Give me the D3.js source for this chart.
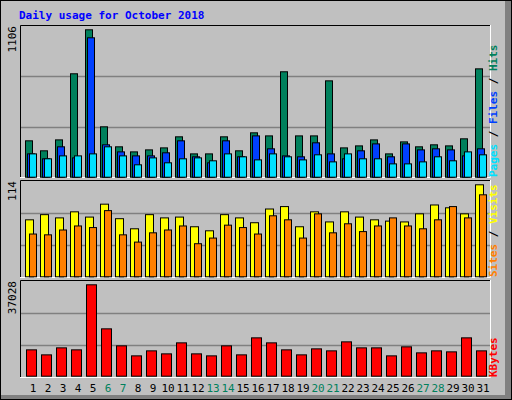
<!DOCTYPE html>
<html>
<head>
<meta charset="utf-8">
<script src="https://cdn.jsdelivr.net/npm/d3@7"></script>
<style>
  body { margin: 0; background: #fff; }
  svg text { font-family: "DejaVu Sans Mono", monospace; }
</style>
</head>
<body>
<svg id="chart" width="512" height="400"></svg>
<script>
const days = d3.range(1, 32);
const weekends = [6, 7, 13, 14, 20, 21, 27, 28];

const hits = [273,198,280,776,1106,378,228,190,205,220,303,175,175,303,198,333,310,791,310,310,723,220,235,280,175,265,228,243,235,288,813];
const files = [175,138,228,145,1046,243,190,160,160,183,273,153,108,273,153,310,213,160,153,258,175,138,198,250,153,250,205,213,205,160,213];
const pages = [175,138,160,160,175,228,160,93,145,108,138,145,123,175,153,130,175,153,130,168,115,175,138,138,100,100,115,153,123,190,168];
const visits = [70.6,77,73,80.5,74,90,72,59.5,77,73,74,62,57,77,73,67,84,87,62,80.5,68,80.5,74,70.6,69,68,78,89,85.5,78,114];
const sites = [53,52,58,63,61,82,52,43,54.5,58,63,41,48,64,61,53,75.6,70.6,48,78,54.5,65.7,56,63,73,63,59.5,70.6,87,73,101.6];
const kbytes = [10674,8647,11484,10674,37028,19186,12295,8241,10268,9052,13510,9052,8241,12295,8647,15537,13510,10674,8647,11078,10268,13915,11484,11484,8241,11889,9457,10268,9862,15537,10268];

const svg = d3.select('#chart');
const W = 512, H = 400;

// background and bevel
svg.append('rect').attr('width', W).attr('height', H).attr('fill', '#c0c0c0');
svg.append('path').attr('d', `M0.5,${H-0.5}V0.5H${W-0.5}`).attr('stroke', '#fff').attr('fill', 'none');
svg.append('rect').attr('x', W - 7).attr('y', 0).attr('width', 7).attr('height', H).attr('fill', '#808080');
svg.append('rect').attr('x', 0).attr('y', H - 5).attr('width', W).attr('height', 5).attr('fill', '#808080');
svg.append('rect').attr('x', 0.5).attr('y', 0.5).attr('width', W - 1).attr('height', H - 1)
  .attr('fill', 'none').attr('stroke', '#000');

svg.append('text').attr('x', 19).attr('y', 19).text('Daily usage for October 2018')
  .attr('font-size', 11).attr('font-weight', 'bold').attr('fill', '#0000ff');

const x = d3.scaleBand().domain(days).range([25, 490]);

const panels = [
  { top: 25, bottom: 178, base: 176.7, peak: 29.3, max: 1106,
    series: [[hits, '#00805c', 0, 7], [files, '#0040ff', 2, 7], [pages, '#00e0ff', 4, 7]],
    label: [['Pages', '#00e0ff'], ['Files', '#0040ff'], ['Hits', '#00805c']] },
  { top: 180, bottom: 278, base: 276.3, peak: 184.3, max: 114,
    series: [[visits, '#ffff00', 0, 8], [sites, '#ff8000', 4, 7]],
    label: [['Sites', '#ff8000'], ['Visits', '#ffff00']] },
  { top: 280, bottom: 378, base: 375.7, peak: 284.3, max: 37028,
    series: [[kbytes, '#ff0000', 1, 10]],
    label: [['KBytes', '#ff0000']] }
];

panels.forEach(p => {
  const g = svg.append('g');
  g.append('rect').attr('x', 20).attr('y', p.top).attr('width', 470).attr('height', p.bottom - p.top)
    .attr('fill', '#c0c0c0');
  const h = p.bottom - p.top;
  [1 / 3, 2 / 3].forEach(f => {
    g.append('line').attr('x1', 21).attr('x2', 490)
      .attr('y1', Math.round(p.top + h * f) + 0.5).attr('y2', Math.round(p.top + h * f) + 0.5)
      .attr('stroke', '#808080').attr('stroke-width', 1.3);
  });
  g.append('path').attr('d', `M20.5,${p.bottom}V${p.top + 0.5}H490`).attr('stroke', '#000').attr('fill', 'none');
  g.append('path').attr('d', `M20,${p.bottom - 0.5}H490.5V${p.top}`).attr('stroke', '#fff').attr('fill', 'none');

  const y = d3.scaleLinear().domain([0, p.max]).range([p.base, p.peak]);
  p.series.forEach(([vals, color, off, w]) => {
    g.selectAll(null).data(vals).enter().append('rect')
      .attr('x', (d, i) => x(days[i]) + off + 0.5)
      .attr('y', d => y(d) + 0.5)
      .attr('width', w)
      .attr('height', d => p.base - y(d))
      .attr('fill', color).attr('stroke', '#000').attr('stroke-width', 1);
  });

  // max label on the left
  svg.append('text').attr('transform', `translate(16,${p.top + 1}) rotate(-90)`)
    .attr('text-anchor', 'end').attr('font-size', 11).attr('fill', '#000').text(p.max);

  // legend on the right
  const t = svg.append('text').attr('transform', `translate(497,${p.bottom - 1}) rotate(-90)`)
    .attr('font-size', 11).attr('font-weight', 'bold');
  p.label.forEach(([name, color], i) => {
    if (i > 0) t.append('tspan').attr('fill', '#000').text(' / ');
    t.append('tspan').attr('fill', color).text(name);
  });
});

svg.selectAll('.day').data(days).enter().append('text')
  .attr('x', d => x(d) + 8).attr('y', 392).attr('text-anchor', 'middle')
  .attr('font-size', 11)
  .attr('fill', d => weekends.includes(d) ? '#00805c' : '#000')
  .text(d => d);
</script>
</body>
</html>
